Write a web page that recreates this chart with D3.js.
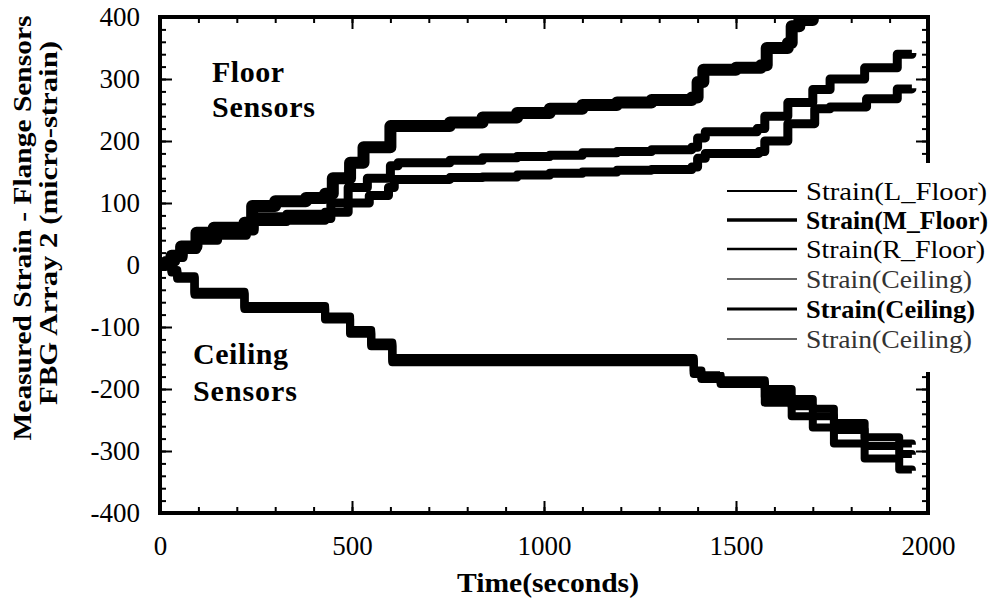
<!DOCTYPE html>
<html>
<head>
<meta charset="utf-8">
<script src="https://cdn.jsdelivr.net/npm/d3@7"></script>
<style>
  body { margin: 0; background: #fff; }
  svg text { font-family: "Liberation Serif", "Times New Roman", serif; fill: #000; }
</style>
</head>
<body>
<div id="chart"></div>
<script>
// time (s) of each step, with the strain (micro-strain) reached there
const floorM_t = [0, 15, 30, 55, 95, 140, 220, 240, 300, 380, 430, 450, 495, 530, 600, 755, 840, 930, 1015, 1100, 1190, 1280, 1385, 1400, 1415, 1500, 1565, 1580, 1635, 1645, 1665, 1700];
const floorM_v = [0, 5, 15, 30, 52, 60, 68, 95, 103, 108, 115, 140, 165, 190, 224, 230, 238, 245, 252, 258, 262, 266, 270, 295, 315, 318, 322, 350, 358, 385, 395, 420];

const floorL_t = [0, 20, 40, 60, 95, 150, 225, 245, 330, 430, 445, 490, 540, 600, 620, 755, 840, 930, 1015, 1100, 1190, 1280, 1385, 1400, 1420, 1555, 1575, 1635, 1700, 1745, 1835, 1920, 1958];
const floorL_v = [0, 6, 15, 28, 45, 52, 58, 78, 82, 85, 100, 125, 140, 160, 165, 169, 173, 175, 177, 181, 183, 186, 190, 205, 215, 220, 240, 262, 283, 300, 318, 340, 342];

const floorR_t = [0, 20, 40, 60, 95, 150, 225, 245, 330, 430, 445, 490, 545, 595, 610, 755, 840, 930, 1015, 1100, 1190, 1280, 1385, 1400, 1420, 1560, 1575, 1635, 1705, 1745, 1840, 1920, 1958];
const floorR_v = [0, 5, 12, 25, 40, 48, 55, 70, 72, 75, 85, 100, 112, 125, 138, 141, 142, 145, 148, 150, 153, 154, 158, 172, 180, 183, 200, 228, 252, 255, 268, 284, 285];

const ceil_t  = [0, 30, 45, 90, 220, 430, 495, 550, 605, 1390, 1410, 1460, 1575, 1645, 1700, 1755, 1835, 1925, 1958];
const ceil1_v = [0, -8, -18, -43, -66, -83, -105, -125, -150, -170, -178, -186, -200, -216, -232, -255, -278, -288, -290];
const ceil2_v = [0, -10, -20, -46, -69, -86, -108, -128, -154, -174, -182, -190, -212, -228, -244, -266, -292, -305, -306];
const ceil3_v = [0, -12, -22, -48, -71, -88, -111, -131, -157, -176, -184, -192, -222, -244, -262, -288, -312, -330, -332];

const xTicks = [0, 500, 1000, 1500, 2000];
const yTicks = [-400, -300, -200, -100, 0, 100, 200, 300, 400];

const legendNames = ['Strain(L_Floor)', 'Strain(M_Floor)', 'Strain(R_Floor)', 'Strain(Ceiling)', 'Strain(Ceiling)', 'Strain(Ceiling)'];

const series = [
    { t: floorL_t, v: floorL_v, w: 9 },
    { t: floorM_t, v: floorM_v, w: 12 },
    { t: floorR_t, v: floorR_v, w: 9 },
    { t: ceil_t, v: ceil1_v, w: 8 },
    { t: ceil_t, v: ceil2_v, w: 8 },
    { t: ceil_t, v: ceil3_v, w: 8 }
];

const width = 997, height = 601;
const plot = { left: 160, right: 928, top: 17, bottom: 513 };

const svg = d3.select('#chart').append('svg')
    .attr('width', width)
    .attr('height', height);

const x = d3.scaleLinear().domain([0, 2000]).range([plot.left, plot.right]);
const y = d3.scaleLinear().domain([-400, 400]).range([plot.bottom, plot.top]);

// clip lines to the frame
svg.append('clipPath').attr('id', 'clip')
    .append('rect')
    .attr('x', plot.left).attr('y', plot.top)
    .attr('width', plot.right - plot.left).attr('height', plot.bottom - plot.top);

const line = d3.line()
    .x(d => x(d[0]))
    .y(d => y(d[1]))
    .curve(d3.curveStepAfter);

svg.append('g').attr('clip-path', 'url(#clip)')
    .selectAll('path')
    .data(series)
    .enter()
    .append('path')
    .attr('d', s => line(s.t.map((t, i) => [t, s.v[i]])))
    .attr('fill', 'none')
    .attr('stroke', '#000')
    .attr('stroke-linejoin', 'round')
    .attr('stroke-width', s => s.w);

// ticks: major + minor, pointing inward on all four sides
function ticks(axis, scale, major, minor, transform, labels) {
    const g = svg.append('g').attr('transform', transform);
    g.call(axis(scale).tickValues(d3.range(minor[0], minor[1] + 1, minor[2])).tickSize(-6).tickFormat(''));
    const gm = svg.append('g').attr('transform', transform);
    gm.call(axis(scale).tickValues(major).tickSize(-12).tickPadding(labels ? 20 : 0).tickFormat(labels ? (d => String(d)) : ''));
    [g, gm].forEach(a => {
        a.select('.domain').remove();
        a.selectAll('.tick line').attr('stroke', '#000').attr('stroke-width', 2);
    });
    return gm;
}

const xb = ticks(d3.axisBottom, x, xTicks, [0, 2000, 100], `translate(0,${plot.bottom})`, true);
xb.selectAll('text').attr('font-size', 27).attr('dy', '0.72em').attr('transform', 'translate(0,3)');
ticks(d3.axisTop, x, xTicks, [0, 2000, 100], `translate(0,${plot.top})`, false);
const yl = ticks(d3.axisLeft, y, yTicks, [-400, 400, 20], `translate(${plot.left},0)`, true);
yl.selectAll('text').attr('font-size', 27).attr('x', -20);
ticks(d3.axisRight, y, yTicks, [-400, 400, 20], `translate(${plot.right},0)`, false);

// frame
svg.append('rect')
    .attr('x', plot.left).attr('y', plot.top)
    .attr('width', plot.right - plot.left).attr('height', plot.bottom - plot.top)
    .attr('fill', 'none').attr('stroke', '#000').attr('stroke-width', 4);

// annotations
const note = svg.append('g').attr('font-weight', 'bold').attr('font-size', 30);
note.append('text').attr('x', 212).attr('y', 82).attr('textLength', 72).text('Floor');
note.append('text').attr('x', 212).attr('y', 117).attr('textLength', 103).text('Sensors');
note.append('text').attr('x', 193).attr('y', 364).attr('textLength', 95).text('Ceiling');
note.append('text').attr('x', 193).attr('y', 401).attr('textLength', 104).text('Sensors');

// legend, on a white box that hides the right axis
const legend = svg.append('g');
legend.append('rect').attr('x', 720).attr('y', 163).attr('width', 277).attr('height', 209).attr('fill', '#fff');
const rowY = [191, 220, 249, 279, 309, 339];
const rowW = [2, 3.5, 2.5, 1.5, 3, 1.5];
const rowBold = [false, true, false, false, true, false];
const rowLen = [181, 182, 179, 166, 169, 166];
const rowColor = ['#000', '#000', '#000', '#333', '#000', '#333'];
legend.selectAll('line')
    .data(legendNames)
    .enter()
    .append('line')
    .attr('x1', 727).attr('x2', 797)
    .attr('y1', (d, i) => rowY[i]).attr('y2', (d, i) => rowY[i])
    .attr('stroke', (d, i) => rowColor[i])
    .attr('stroke-width', (d, i) => rowW[i]);
legend.selectAll('text')
    .data(legendNames)
    .enter()
    .append('text')
    .attr('x', 806)
    .attr('y', (d, i) => rowY[i] + 9)
    .attr('font-size', 26)
    .attr('font-weight', (d, i) => rowBold[i] ? 'bold' : 'normal')
    .attr('textLength', (d, i) => rowLen[i])
    .attr('lengthAdjust', 'spacingAndGlyphs')
    .style('fill', (d, i) => rowColor[i])
    .text(d => d);

// axis titles
svg.append('text')
    .attr('x', 548).attr('y', 592)
    .attr('text-anchor', 'middle')
    .attr('font-size', 27).attr('font-weight', 'bold')
    .attr('textLength', 182).attr('lengthAdjust', 'spacingAndGlyphs')
    .text('Time(seconds)');

svg.append('text')
    .attr('transform', 'translate(31,228) rotate(-90)')
    .attr('text-anchor', 'middle')
    .attr('font-size', 25).attr('font-weight', 'bold')
    .attr('textLength', 425).attr('lengthAdjust', 'spacingAndGlyphs')
    .text('Measured Strain - Flange Sensors');

svg.append('text')
    .attr('transform', 'translate(57,223) rotate(-90)')
    .attr('text-anchor', 'middle')
    .attr('font-size', 25).attr('font-weight', 'bold')
    .attr('textLength', 364).attr('lengthAdjust', 'spacingAndGlyphs')
    .text('FBG Array 2  (micro-strain)');
</script>
</body>
</html>
